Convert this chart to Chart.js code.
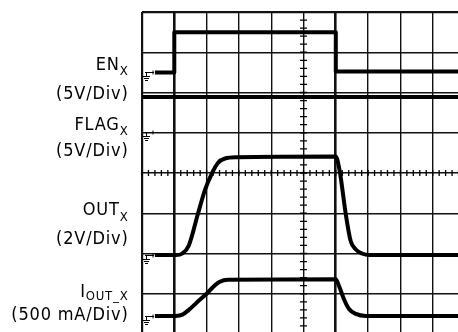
<!DOCTYPE html>
<html>
<head>
<meta charset="utf-8">
<script src="https://cdn.jsdelivr.net/npm/chart.js@4"></script>
<style>
  html, body { margin: 0; padding: 0; background: #fff; overflow: hidden; }
  canvas { display: block; }
</style>
</head>
<body>
<canvas id="scope" width="470" height="340"></canvas>
<script>
// trace values in screen divisions (10 across, 8 up)
const enTime = [0.4, 1.0, 1.0, 6.0, 6.0, 10];
const enLevel = [6.5, 6.5, 7.5, 7.5, 6.52, 6.52];

const flagTime = [0, 10];
const flagLevel = [5.89, 5.89];

const outTime = [0.4, 1.05, 1.25, 1.45, 1.73, 1.95, 2.17, 2.35, 2.57, 2.94, 6.0, 6.12, 6.31, 6.46, 6.62, 6.81, 7.03, 10];
const outLevel = [1.96, 1.96, 2.0, 2.2, 2.98, 3.58, 4.0, 4.25, 4.36, 4.39, 4.41, 4.05, 2.97, 2.31, 2.1, 2.0, 1.96, 1.96];

const ioutTime = [0.4, 1.05, 1.25, 1.45, 1.79, 2.0, 2.2, 2.41, 2.66, 6.0, 6.1, 6.25, 6.41, 6.62, 6.93, 10];
const ioutLevel = [0.45, 0.45, 0.48, 0.6, 0.85, 1.0, 1.17, 1.3, 1.35, 1.36, 1.19, 0.87, 0.62, 0.5, 0.45, 0.45];

const groundLevels = [6.5, 5.02, 1.96, 0.45];

const channelNames = [['EN', 'X'], ['FLAG', 'X'], ['OUT', 'X'], ['I', 'OUT_X']];
const channelScales = ['(5V/Div)', '(5V/Div)', '(2V/Div)', '(500 mA/Div)'];

const toPoints = (xs, ys) => xs.map((x, i) => ({ x: x, y: ys[i] }));

const traceStyle = {
  borderColor: '#000',
  borderWidth: 4,
  pointRadius: 0,
  fill: false,
  borderJoinStyle: 'round',
  borderCapStyle: 'butt'
};

const labelRows = [
  { name: 70, sub: 75, scale: 99 },
  { name: 130, sub: 135, scale: 156 },
  { name: 215, sub: 221, scale: 244 },
  { name: 297, sub: 300, scale: 320 }
];

const mainFont = '18px "DejaVu Sans Condensed", "DejaVu Sans"';
const subFont = '13px "DejaVu Sans Condensed", "DejaVu Sans"';

const scopeDecor = {
  id: 'scopeDecor',
  afterDatasetsDraw(chart) {
    const ctx = chart.ctx;
    const xs = chart.scales.x;
    const ys = chart.scales.y;
    ctx.save();
    ctx.strokeStyle = '#000';
    ctx.lineWidth = 1.3;

    // minor ticks on the centre axes
    const cx = xs.getPixelForValue(5);
    const cy = ys.getPixelForValue(4);
    ctx.beginPath();
    for (let v = 0; v <= 10; v += 0.2) {
      const px = xs.getPixelForValue(v);
      ctx.moveTo(px, cy - 3);
      ctx.lineTo(px, cy + 3);
    }
    for (let v = 0; v <= 8; v += 0.2) {
      const py = ys.getPixelForValue(v);
      ctx.moveTo(cx - 3.5, py);
      ctx.lineTo(cx + 3.5, py);
    }
    ctx.stroke();

    // ground markers
    const gx = xs.getPixelForValue(0);
    ctx.lineWidth = 1;
    groundLevels.forEach(level => {
      const y = Math.round(ys.getPixelForValue(level)) + 0.5;
      ctx.beginPath();
      ctx.moveTo(gx + 3, y);
      ctx.lineTo(gx + 12, y);
      ctx.moveTo(gx + 11, y - 2);
      ctx.lineTo(gx + 11, y + 2);
      ctx.moveTo(gx + 4.5, y);
      ctx.lineTo(gx + 4.5, y + 4);
      ctx.moveTo(gx + 1, y + 4);
      ctx.lineTo(gx + 8, y + 4);
      ctx.moveTo(gx + 2, y + 6);
      ctx.lineTo(gx + 7, y + 6);
      ctx.moveTo(gx + 3, y + 8);
      ctx.lineTo(gx + 6, y + 8);
      ctx.stroke();
    });

    // channel labels
    const right = 128.5;
    ctx.fillStyle = '#000';
    ctx.textAlign = 'right';
    ctx.textBaseline = 'alphabetic';
    ctx.letterSpacing = '0.8px';
    channelNames.forEach((pair, i) => {
      const row = labelRows[i];
      ctx.font = subFont;
      const subW = ctx.measureText(pair[1]).width;
      ctx.fillText(pair[1], right, row.sub);
      ctx.font = mainFont;
      ctx.fillText(pair[0], right - subW, row.name);
      ctx.fillText(channelScales[i], right, row.scale);
    });
    ctx.restore();
  }
};

const gridWidth = (axis) => (c) => {
  const v = c.tick ? c.tick.value : null;
  if (axis === 'x' && (v === 1 || v === 6)) return 2.6;
  if (v === 0 || (axis === 'y' && v === 8)) return 2.2;
  return 1.4;
};

new Chart(document.getElementById('scope'), {
  type: 'line',
  data: {
    datasets: [
      Object.assign({ label: 'EN', data: toPoints(enTime, enLevel), tension: 0 }, traceStyle),
      Object.assign({ label: 'FLAG', data: toPoints(flagTime, flagLevel), tension: 0 }, traceStyle),
      Object.assign({ label: 'OUT', data: toPoints(outTime, outLevel), cubicInterpolationMode: 'monotone' }, traceStyle),
      Object.assign({ label: 'IOUT', data: toPoints(ioutTime, ioutLevel), cubicInterpolationMode: 'monotone' }, traceStyle)
    ]
  },
  options: {
    responsive: false,
    animation: false,
    layout: { padding: { left: 142, top: 12, right: 5, bottom: 6 } },
    plugins: {
      legend: { display: false },
      tooltip: { enabled: false },
      title: { display: false }
    },
    scales: {
      x: {
        type: 'linear',
        min: 0,
        max: 10,
        ticks: { display: false, stepSize: 1 },
        grid: { color: '#111', lineWidth: gridWidth('x'), drawTicks: false },
        border: { display: false },
        afterFit(scale) { scale.height = 0; }
      },
      y: {
        type: 'linear',
        min: 0,
        max: 8,
        ticks: { display: false, stepSize: 1 },
        grid: { color: '#111', lineWidth: gridWidth('y'), drawTicks: false },
        border: { display: false },
        afterFit(scale) { scale.width = 0; }
      }
    }
  },
  plugins: [scopeDecor]
});
</script>
</body>
</html>
